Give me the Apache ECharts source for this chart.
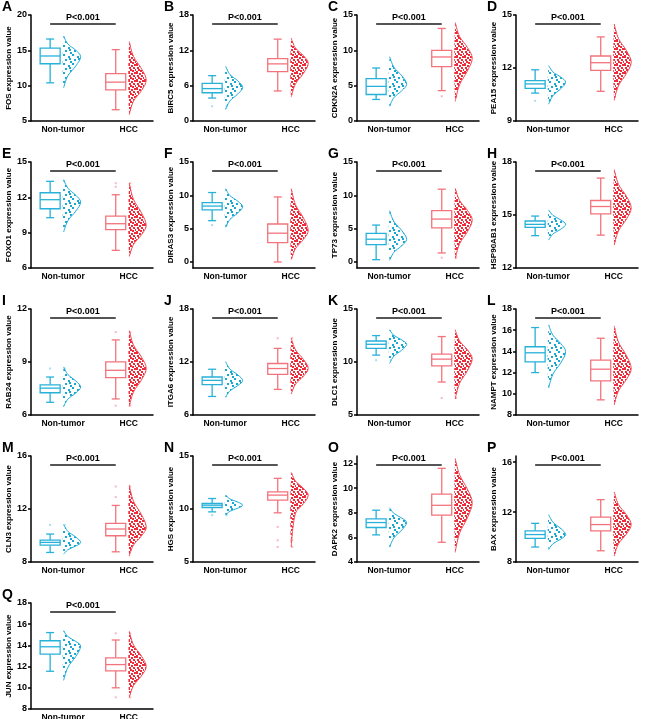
<!DOCTYPE html>
<html><head><meta charset="utf-8">
<script src="https://cdn.jsdelivr.net/npm/echarts@6/dist/echarts.min.js"></script>
<style>html,body{margin:0;padding:0;background:#fff}#c{width:650px;height:719px}</style>
</head><body><div id="c"></div>
<script>
// ---------------- data ----------------
const letters = ['A','B','C','D','E','F','G','H','I','J','K','L','M','N','O','P','Q'];
const genes = ['FOS','BIRC5','CDKN2A','PEA15','FOXO1','DIRAS3','TP73','HSP90AB1','RAB24','ITGA6','DLC1','NAMPT','CLN3','HGS','DAPK2','BAX','JUN'];
const groups = ['Non-tumor','HCC'];
const pLabel = 'P<0.001';
const yMin = [5,0,0,9,6,-0.9,-0.9,12,6,6,5,8,8,5,4,8,8];
const yMax = [20,18,15,15,15,15,15,18,12,18,15,18,16,15,12.6,16.5,18];
const yTicks = [[5,10,15,20],[0,6,12,18],[0,5,10,15],[9,12,15],[6,9,12,15],[0,5,10,15],[0,5,10,15],[12,15,18],[6,9,12],[6,12,18],[5,10,15],[8,10,12,14,16,18],[8,12,16],[5,10,15],[4,6,8,10,12],[8,12,16],[8,10,12,14,16,18]];
// box: [low whisker, Q1, median, Q3, high whisker]
const boxN = [[10.4,13.1,14.2,15.3,16.6],[3.9,4.8,5.5,6.4,7.7],[3.05,3.75,4.9,6.0,7.5],[10.58,10.85,11.1,11.29,11.9],[10.27,11.03,11.8,12.39,13.36],[6.2,7.83,8.39,8.9,10.42],[0.35,2.62,3.42,4.28,5.54],[13.83,14.3,14.47,14.66,14.94],[6.72,7.26,7.52,7.71,8.15],[8.1,9.43,9.92,10.3,11.18],[10.65,11.29,11.67,11.98,12.49],[12.0,13.02,13.87,14.44,16.25],[8.72,9.27,9.48,9.65,10.11],[9.73,10.14,10.36,10.52,10.99],[6.2,6.8,7.2,7.5,8.2],[9.2,9.9,10.2,10.5,11.1],[11.56,13.17,13.87,14.44,15.21]];
const boxH = [[6.6,9.4,10.5,11.7,15.1],[5.1,8.4,9.7,10.6,13.9],[4.3,7.7,9.06,10.0,13.1],[10.68,11.86,12.3,12.68,13.76],[7.5,9.25,9.76,10.41,12.22],[0.0,2.9,4.32,5.7,9.76],[1.36,5.13,6.44,7.7,10.92],[13.86,15.06,15.48,15.82,17.09],[6.91,8.11,8.53,9.01,10.25],[8.9,10.61,11.26,11.83,13.54],[8.11,9.63,10.27,10.75,12.4],[9.43,11.21,12.32,13.17,15.24],[8.77,9.98,10.49,10.92,12.27],[9.64,10.84,11.31,11.62,12.89],[5.6,7.8,8.6,9.5,11.6],[8.9,10.5,11.0,11.6,13.0],[10.0,11.59,12.19,12.83,14.51]];
// density outline values, top to bottom (width profile in violinShape)
const violN = [[17.0,15.9,15.0,14.1,12.8,11.4,9.7],[9.3,7.9,6.8,5.7,4.6,3.4,2.0],[9.1,7.6,6.4,5.2,4.3,3.3,2.1],[12.14,11.78,11.48,11.2,10.83,10.43,9.95],[13.5,12.78,12.17,11.6,10.84,10.02,9.05],[11.0,9.97,9.11,8.3,7.37,6.38,5.2],[7.7,6.07,4.69,3.4,2.46,1.45,0.25],[15.29,14.98,14.72,14.47,14.2,13.92,13.58],[8.72,8.29,7.92,7.58,7.25,6.9,6.48],[12.02,11.21,10.54,9.9,9.34,8.73,8.02],[13.03,12.51,12.08,11.67,11.13,10.55,9.86],[16.5,15.54,14.73,13.97,12.94,11.84,10.54],[10.82,10.31,9.88,9.48,9.21,8.93,8.59],[11.31,10.95,10.65,10.36,10.08,9.78,9.42],[8.4,7.94,7.56,7.2,6.6,5.96,5.2],[11.8,11.2,10.68,10.2,9.84,9.46,9.0],[15.37,14.83,14.37,13.94,12.97,11.93,10.7]];
const violH = [[16.2,14.15,12.4,10.8,9.3,7.8,5.9],[14.0,12.4,11.1,9.8,8.1,6.3,4.1],[13.9,12.0,10.4,8.9,7.1,5.1,2.8],[14.49,13.67,12.98,12.33,11.69,11.0,10.18],[13.2,11.83,10.68,9.6,8.82,7.99,7.0],[11.0,8.6,6.6,4.7,3.4,2.0,0.35],[11.07,9.26,7.73,6.3,4.56,2.7,0.5],[17.56,16.74,16.05,15.4,14.77,14.1,13.3],[10.78,9.96,9.28,8.63,7.99,7.3,6.48],[14.69,13.39,12.29,11.26,10.4,9.49,8.4],[13.03,12.0,11.14,10.33,9.19,7.97,6.52],[16.41,14.88,13.59,12.38,11.36,10.27,8.98],[13.8,12.59,11.57,10.62,9.97,9.28,8.46],[13.45,12.63,11.95,11.3,10.5,9.6,6.42],[12.4,11.1,9.9,8.8,7.6,6.32,4.8],[13.6,12.61,11.78,11.0,10.25,9.45,8.5],[15.3,14.05,12.99,12.0,11.13,10.2,9.1]];
const violinShape = [0,0.25,0.72,1,0.72,0.25,0];
const outN = [[],[2.5],[],[10.14],[],[5.54],[],[],[8.63],[],[10.17],[],[10.8],[9.42],[],[],[]];
const outH = [[],[],[3.5],[],[12.9,13.2],[],[0.65],[],[10.69,6.53],[14.69],[6.6],[],[13.7,12.9],[8.31,7.05,6.42],[],[],[15.14,9.1]];

// ---------------- style / layout ----------------
const FONT = '"Liberation Sans Narrow", "Liberation Sans", Arial, sans-serif';
const colLeft = [31,193,357,516];
const rowTop = [15,162,309,456,603];
const GW = 122, GH = 106;
const BOX_DX = -13, BOX_HW = 10, CAP = 4, VIOL_X0 = 0.5, VIOL_W = 17;
const boxColor = ['#27B1D9','#F2737C'];
const lineColor = ['#22AEDA','#F0525D'];
const dotColor = ['#1AA8D3','#EE2C39'];
const outColor = ['#A9DDEC','#F7B9BE'];

function makePattern(color, size, dots){
  const c = document.createElement('canvas'); c.width = c.height = size;
  const ctx = c.getContext('2d'); ctx.fillStyle = color;
  dots.forEach(d => ctx.fillRect(d[0], d[1], 2, 2));
  return {image: c, repeat: 'repeat'};
}
const patterns = [
  makePattern(dotColor[0], 9, [[0,0],[5,2],[2,5],[7,7],[6,4]]),
  makePattern(dotColor[1], 8, [[0,0],[3,1],[6,0],[1,3],[5,3],[2,5],[7,5],[4,6],[0,7]])
];

function renderBox(params, api){
  const g = api.value(0);
  const yy = [1,2,3,4,5].map(k => api.coord([g, api.value(k)])[1]);
  const cx = api.coord([g, api.value(3)])[0] + BOX_DX;
  const c = boxColor[g];
  const st = {stroke: c, lineWidth: 1.3};
  return {type:'group', children:[
    {type:'line', shape:{x1:cx,y1:yy[4],x2:cx,y2:yy[3]}, style:st},
    {type:'line', shape:{x1:cx,y1:yy[1],x2:cx,y2:yy[0]}, style:st},
    {type:'line', shape:{x1:cx-CAP,y1:yy[4],x2:cx+CAP,y2:yy[4]}, style:st},
    {type:'line', shape:{x1:cx-CAP,y1:yy[0],x2:cx+CAP,y2:yy[0]}, style:st},
    {type:'rect', shape:{x:cx-BOX_HW,y:yy[3],width:2*BOX_HW,height:yy[1]-yy[3]}, style:{stroke:c,lineWidth:1.3,fill:'#fff'}},
    {type:'line', shape:{x1:cx-BOX_HW,y1:yy[2],x2:cx+BOX_HW,y2:yy[2]}, style:st}
  ]};
}
function renderViolin(params, api){
  const g = api.value(0);
  const pts = [];
  for (let k = 0; k < 7; k++){
    const p = api.coord([g, api.value(k+1)]);
    pts.push([p[0] + VIOL_X0 + VIOL_W * violinShape[k], p[1]]);
  }
  return {type:'group', children:[
    {type:'polygon', shape:{points:pts, smooth:0.35}, style:{fill: patterns[g]}},
    {type:'polyline', shape:{points:pts, smooth:0.35}, style:{stroke: lineColor[g], lineWidth:1, fill:null}}
  ]};
}
function renderOut(params, api){
  const g = api.value(0);
  const p = api.coord([g, api.value(1)]);
  return {type:'group', children:[
    {type:'rect', shape:{x:p[0]+BOX_DX-1,y:p[1]-1,width:2,height:2}, style:{fill:outColor[g]}},
    {type:'rect', shape:{x:p[0]+VIOL_X0,y:p[1]-1,width:2,height:2}, style:{fill:outColor[g]}}
  ]};
}
function renderBracket(params, api){
  const top = params.coordSys.y;
  const x1 = api.coord([0, api.value(1)])[0] + BOX_DX;
  const x2 = api.coord([1, api.value(1)])[0] + BOX_DX;
  return {type:'group', children:[
    {type:'line', shape:{x1:x1,y1:top+9,x2:x2,y2:top+9}, style:{stroke:'#555', lineWidth:2}},
    {type:'text', style:{text:pLabel, x:(x1+x2)/2, y:top+7, align:'center', verticalAlign:'bottom', font:'bold 9px ' + FONT, fill:'#000'}}
  ]};
}

const grid = [], xAxis = [], yAxis = [], series = [], graphic = [];
genes.forEach((gene, i) => {
  const c = i % 4, r = Math.floor(i / 4);
  grid.push({left: colLeft[c], top: rowTop[r], width: GW, height: GH, containLabel:false, outerBoundsMode:'none'});
  xAxis.push({gridIndex:i, type:'value', min:-0.49, max:1.37,
    axisLine:{show:true, onZero:false, lineStyle:{color:'#000', width:1.5}},
    axisTick:{show:false}, splitLine:{show:false},
    axisLabel:{customValues:[0,1], formatter: v => groups[Math.round(v)], fontSize:8.5, fontWeight:'bold', color:'#000', fontFamily:FONT, margin:4}});
  yAxis.push({gridIndex:i, type:'value', min:yMin[i], max:yMax[i],
    axisLine:{show:true, onZero:false, lineStyle:{color:'#000', width:1.5}},
    axisTick:{show:true, length:3, customValues:yTicks[i], lineStyle:{color:'#000', width:1.5}},
    axisLabel:{customValues:yTicks[i], fontSize:9, fontWeight:'bold', color:'#000', fontFamily:FONT, margin:4},
    splitLine:{show:false},
    name: gene + ' expression value', nameLocation:'middle', nameGap:7,
    nameTextStyle:{fontSize:8, fontWeight:'bold', color:'#000', fontFamily:FONT}});
  series.push({type:'custom', xAxisIndex:i, yAxisIndex:i, z:2, renderItem:renderViolin,
    dimensions:['g','v0','v1','v2','v3','v4','v5','v6'], encode:{x:0, y:[1,2,3,4,5,6,7]},
    data:[[0].concat(violN[i]), [1].concat(violH[i])]});
  series.push({type:'custom', xAxisIndex:i, yAxisIndex:i, z:3, renderItem:renderBox,
    dimensions:['g','low','q1','med','q3','high'], encode:{x:0, y:[1,2,3,4,5]},
    data:[[0].concat(boxN[i]), [1].concat(boxH[i])]});
  const od = outN[i].map(v => [0, v]).concat(outH[i].map(v => [1, v]));
  if (od.length) series.push({type:'custom', xAxisIndex:i, yAxisIndex:i, z:1, renderItem:renderOut, data:od});
  series.push({type:'custom', xAxisIndex:i, yAxisIndex:i, z:4, renderItem:renderBracket, clip:false,
    data:[[0, yMin[i]]]});
  graphic.push({type:'text', left: colLeft[c] - 29, top: rowTop[r] - 15,
    style:{text: letters[i], font:'bold 14px "Liberation Sans", Arial, sans-serif', fill:'#000'}});
});

const chart = echarts.init(document.getElementById('c'), null, {renderer:'canvas'});
chart.setOption({animation:false, backgroundColor:'#fff', grid, xAxis, yAxis, series, graphic});
</script>
</body></html>
